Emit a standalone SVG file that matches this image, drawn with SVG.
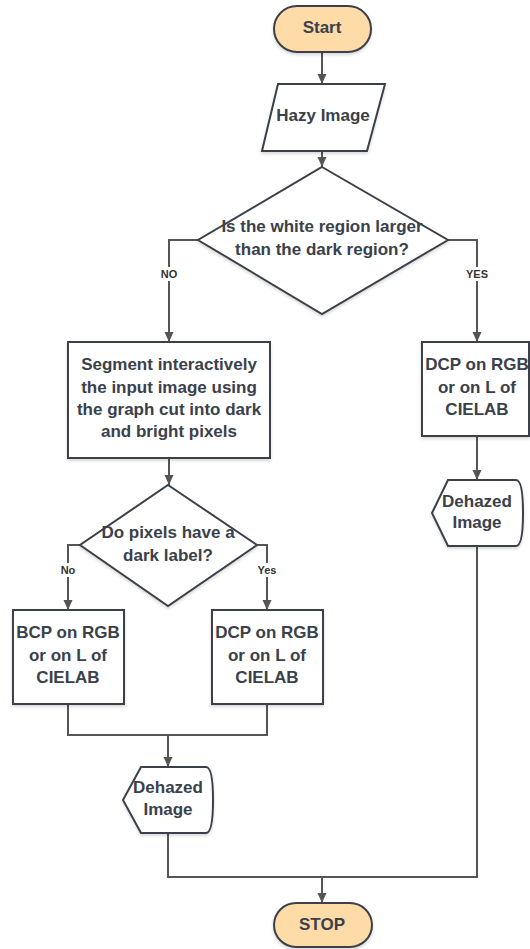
<svg xmlns="http://www.w3.org/2000/svg" width="530" height="949" viewBox="0 0 530 949">
<style>
.n{fill:#ffffff;stroke:#3a414a;stroke-width:2;filter:url(#sh)}
.t{fill:#ffdba8;stroke:#3a414a;stroke-width:2;filter:url(#sh)}
text{font-family:"Liberation Sans",Arial,sans-serif;font-weight:bold;fill:#3a414a;text-anchor:middle}
.tx{font-size:17px}
.lb{font-size:11px;fill:#333333}
.c{fill:none;stroke:#555555;stroke-width:2}
.a{marker-end:url(#ar)}
</style>
<defs>
<marker id="ar" markerUnits="userSpaceOnUse" markerWidth="10" markerHeight="10" refX="10" refY="5" orient="auto">
<path d="M0,0.5 L10,5 L0,9.5 z" fill="#555555"/>
</marker>
<filter id="sh" x="-10%" y="-10%" width="125%" height="130%">
<feDropShadow dx="0" dy="2" stdDeviation="1.5" flood-color="#000000" flood-opacity="0.15"/>
</filter>
</defs>
<rect width="530" height="949" fill="#ffffff"/>
<g id="connectors">
<path class="c a" d="M322,52 L322,84"/>
<path class="c a" d="M322,151 L322,167"/>
<path class="c a" d="M198,240 L169,240 L169,342"/>
<path class="c a" d="M448,240 L477,240 L477,342"/>
<path class="c a" d="M169,458 L169,485"/>
<path class="c a" d="M80,545 L68,545 L68,610"/>
<path class="c a" d="M257,545 L267,545 L267,610"/>
<path class="c" d="M68,704 L68,735 L267,735 L267,704"/>
<path class="c a" d="M168,735 L168,767"/>
<path class="c a" d="M477,436 L477,480"/>
<path class="c" d="M477,546 L477,877 L168,877 L168,833"/>
<path class="c a" d="M322,877 L322,903"/>
<rect x="156" y="267" width="26" height="14" fill="#ffffff"/>
<text class="lb" x="169" y="278">NO</text>
<rect x="462" y="267" width="30" height="14" fill="#ffffff"/>
<text class="lb" x="477" y="278">YES</text>
<rect x="56" y="563" width="24" height="14" fill="#ffffff"/>
<text class="lb" x="68" y="574">No</text>
<rect x="253" y="563" width="28" height="14" fill="#ffffff"/>
<text class="lb" x="267" y="574">Yes</text>
</g>
<g id="start">
<rect class="t" x="274" y="6" width="97" height="46" rx="23"/>
<text class="tx" x="322" y="33">Start</text>
</g>
<g id="hazy">
<path class="n" d="M278,84 L385,84 L367,151 L262,151 Z"/>
<text class="tx" x="323" y="121">Hazy Image</text>
</g>
<g id="decision1">
<path class="n" d="M322,167 L448,240 L322,314 L198,240 Z"/>
<text class="tx" x="322" y="232">Is the white region larger</text>
<text class="tx" x="322" y="255">than the dark region?</text>
</g>
<g id="segment">
<rect class="n" x="68" y="342" width="202" height="116"/>
<text class="tx" x="169" y="370">Segment interactively</text>
<text class="tx" x="169" y="393">the input image using</text>
<text class="tx" x="169" y="415">the graph cut into dark</text>
<text class="tx" x="169" y="437">and bright pixels</text>
</g>
<g id="dcp-right">
<rect class="n" x="422" y="342" width="107" height="94"/>
<text class="tx" x="477" y="370">DCP on RGB</text>
<text class="tx" x="477" y="393">or on L of</text>
<text class="tx" x="477" y="415">CIELAB</text>
</g>
<g id="dehazed-right">
<path class="n" d="M448,480 L516,480 Q523,480 523,513 Q523,546 516,546 L448,546 L432,513 Z"/>
<text class="tx" x="477" y="507">Dehazed</text>
<text class="tx" x="477" y="528">Image</text>
</g>
<g id="decision2">
<path class="n" d="M168,485 L257,545 L168,606 L80,545 Z"/>
<text class="tx" x="168" y="538">Do pixels have a</text>
<text class="tx" x="168" y="561">dark label?</text>
</g>
<g id="bcp">
<rect class="n" x="13" y="610" width="111" height="94"/>
<text class="tx" x="68" y="638">BCP on RGB</text>
<text class="tx" x="68" y="661">or on L of</text>
<text class="tx" x="68" y="683">CIELAB</text>
</g>
<g id="dcp-left">
<rect class="n" x="212" y="610" width="111" height="94"/>
<text class="tx" x="267" y="638">DCP on RGB</text>
<text class="tx" x="267" y="661">or on L of</text>
<text class="tx" x="267" y="683">CIELAB</text>
</g>
<g id="dehazed-left">
<path class="n" d="M141,767 L206,767 Q213,767 213,800 Q213,833 206,833 L141,833 L123,800 Z"/>
<text class="tx" x="168" y="793">Dehazed</text>
<text class="tx" x="168" y="815">Image</text>
</g>
<g id="stop">
<rect class="t" x="274" y="903" width="98" height="44" rx="22"/>
<text class="tx" x="322" y="930">STOP</text>
</g>
</svg>
